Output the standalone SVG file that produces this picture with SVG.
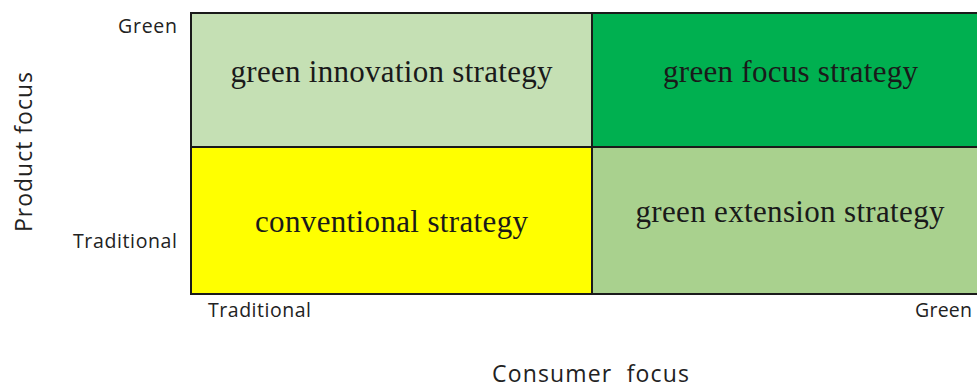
<svg xmlns="http://www.w3.org/2000/svg" width="977" height="388" viewBox="0 0 977 388">
<style>
.cell{stroke:#1a1a1a;stroke-width:2}
.q{font-family:"Liberation Serif","Times New Roman",serif;font-size:31px;fill:#1a1a1a;text-anchor:middle}
.ax{font-family:"Open Sans","DejaVu Sans",sans-serif;font-size:19.5px;fill:#222}
.tt{font-family:"Open Sans","DejaVu Sans",sans-serif;font-size:23px;fill:#222}
</style>
<rect width="977" height="388" fill="#ffffff"/>
<g id="green-innovation">
<rect class="cell" x="191" y="13" width="401" height="134" fill="#c5e0b4"/>
<text class="q" x="391.5" y="82" textLength="322">green innovation strategy</text>
</g>
<g id="green-focus">
<rect class="cell" x="592" y="13" width="400" height="134" fill="#00b050"/>
<text class="q" x="790.5" y="82" textLength="255">green focus strategy</text>
</g>
<g id="conventional">
<rect class="cell" x="191" y="147" width="401" height="147" fill="#ffff00"/>
<text class="q" x="391.5" y="232" textLength="273">conventional strategy</text>
</g>
<g id="green-extension">
<rect class="cell" x="592" y="147" width="400" height="147" fill="#a9d18e"/>
<text class="q" x="790" y="222" textLength="309">green extension strategy</text>
</g>
<g id="connectors"></g>
<g id="axis-labels">
<text class="ax" x="118" y="33" textLength="59">Green</text>
<text class="ax" x="73" y="248" textLength="104">Traditional</text>
<text class="ax" x="208" y="317" textLength="103">Traditional</text>
<text class="ax" x="915" y="317" textLength="57">Green</text>
<text class="tt" x="492" y="382" textLength="197" xml:space="preserve">Consumer  focus</text>
<text class="tt" transform="translate(32,232) rotate(-90)" x="0" y="0" textLength="160">Product focus</text>
</g>
</svg>
